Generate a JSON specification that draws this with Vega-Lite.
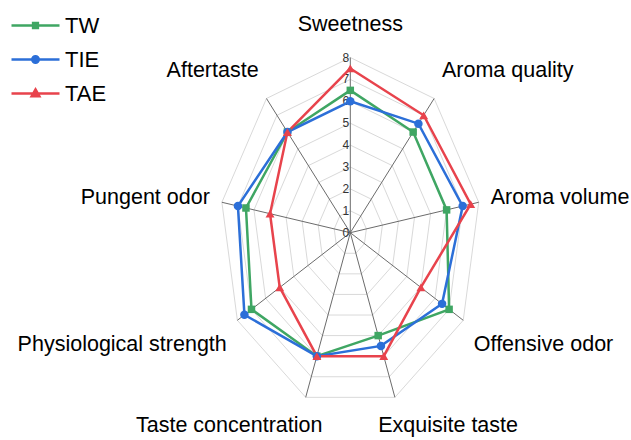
{
  "$schema": "https://vega.github.io/schema/vega-lite/v6.json",
  "width": 631,
  "height": 440,
  "autosize": {"type": "none"},
  "padding": 0,
  "background": "white",
  "config": {"view": {"stroke": null}, "font": "Liberation Sans, Arial, sans-serif"},
  "datasets": {
    "scores": [
      {"series": "TW", "k": 0, "attribute": "Sweetness", "value": 6.5},
      {"series": "TW", "k": 1, "attribute": "Aroma quality", "value": 6.0},
      {"series": "TW", "k": 2, "attribute": "Aroma volume", "value": 6.0},
      {"series": "TW", "k": 3, "attribute": "Offensive odor", "value": 7.0},
      {"series": "TW", "k": 4, "attribute": "Exquisite taste", "value": 5.0},
      {"series": "TW", "k": 5, "attribute": "Taste concentration", "value": 6.0},
      {"series": "TW", "k": 6, "attribute": "Physiological strength", "value": 7.0},
      {"series": "TW", "k": 7, "attribute": "Pungent odor", "value": 6.5},
      {"series": "TW", "k": 8, "attribute": "Aftertaste", "value": 6.0},
      {"series": "TIE", "k": 0, "attribute": "Sweetness", "value": 6.0},
      {"series": "TIE", "k": 1, "attribute": "Aroma quality", "value": 6.5},
      {"series": "TIE", "k": 2, "attribute": "Aroma volume", "value": 7.0},
      {"series": "TIE", "k": 3, "attribute": "Offensive odor", "value": 6.5},
      {"series": "TIE", "k": 4, "attribute": "Exquisite taste", "value": 5.5},
      {"series": "TIE", "k": 5, "attribute": "Taste concentration", "value": 6.0},
      {"series": "TIE", "k": 6, "attribute": "Physiological strength", "value": 7.5},
      {"series": "TIE", "k": 7, "attribute": "Pungent odor", "value": 7.0},
      {"series": "TIE", "k": 8, "attribute": "Aftertaste", "value": 6.0},
      {"series": "TAE", "k": 0, "attribute": "Sweetness", "value": 7.5},
      {"series": "TAE", "k": 1, "attribute": "Aroma quality", "value": 7.0},
      {"series": "TAE", "k": 2, "attribute": "Aroma volume", "value": 7.5},
      {"series": "TAE", "k": 3, "attribute": "Offensive odor", "value": 5.0},
      {"series": "TAE", "k": 4, "attribute": "Exquisite taste", "value": 6.0},
      {"series": "TAE", "k": 5, "attribute": "Taste concentration", "value": 6.0},
      {"series": "TAE", "k": 6, "attribute": "Physiological strength", "value": 5.0},
      {"series": "TAE", "k": 7, "attribute": "Pungent odor", "value": 5.0},
      {"series": "TAE", "k": 8, "attribute": "Aftertaste", "value": 6.0}
    ],
    "axes": [
      {"k": 0, "label": "Sweetness"},
      {"k": 1, "label": "Aroma quality"},
      {"k": 2, "label": "Aroma volume"},
      {"k": 3, "label": "Offensive odor"},
      {"k": 4, "label": "Exquisite taste"},
      {"k": 5, "label": "Taste concentration"},
      {"k": 6, "label": "Physiological strength"},
      {"k": 7, "label": "Pungent odor"},
      {"k": 8, "label": "Aftertaste"}
    ],
    "rings": [
      {"level": 1, "k": [0, 1, 2, 3, 4, 5, 6, 7, 8]},
      {"level": 2, "k": [0, 1, 2, 3, 4, 5, 6, 7, 8]},
      {"level": 3, "k": [0, 1, 2, 3, 4, 5, 6, 7, 8]},
      {"level": 4, "k": [0, 1, 2, 3, 4, 5, 6, 7, 8]},
      {"level": 5, "k": [0, 1, 2, 3, 4, 5, 6, 7, 8]},
      {"level": 6, "k": [0, 1, 2, 3, 4, 5, 6, 7, 8]},
      {"level": 7, "k": [0, 1, 2, 3, 4, 5, 6, 7, 8]},
      {"level": 8, "k": [0, 1, 2, 3, 4, 5, 6, 7, 8]}
    ],
    "ticks": [
      {"v": 0}, {"v": 1}, {"v": 2}, {"v": 3}, {"v": 4}, {"v": 5}, {"v": 6}, {"v": 7}, {"v": 8}
    ]
  },
  "layer": [
    {
      "data": {"name": "rings"},
      "transform": [
        {"flatten": ["k"]},
        {"calculate": "datum.level * sin(datum.k * 2 * PI / 9)", "as": "x"},
        {"calculate": "datum.level * cos(datum.k * 2 * PI / 9)", "as": "y"}
      ],
      "mark": {"type": "line", "interpolate": "linear-closed", "stroke": "#d9d9d9", "strokeWidth": 1},
      "encoding": {
        "x": {"field": "x", "type": "quantitative", "scale": {"domain": [-21.49, 17.22], "nice": false, "zero": false}, "axis": null},
        "y": {"field": "y", "type": "quantitative", "scale": {"domain": [-9.466, 10.626], "nice": false, "zero": false}, "axis": null},
        "detail": {"field": "level", "type": "nominal"},
        "order": {"field": "k", "type": "quantitative"}
      }
    },
    {
      "data": {"name": "axes"},
      "transform": [
        {"calculate": "8 * sin(datum.k * 2 * PI / 9)", "as": "ex"},
        {"calculate": "8 * cos(datum.k * 2 * PI / 9)", "as": "ey"},
        {"calculate": "0", "as": "origin"}
      ],
      "mark": {"type": "rule", "stroke": "#6b6b6b", "strokeWidth": 1},
      "encoding": {
        "x": {"field": "origin", "type": "quantitative"},
        "y": {"field": "origin", "type": "quantitative"},
        "x2": {"field": "ex"},
        "y2": {"field": "ey"}
      }
    },
    {
      "data": {"name": "ticks"},
      "transform": [{"calculate": "0", "as": "origin"}],
      "mark": {"type": "text", "align": "right", "baseline": "middle", "dx": -1, "fontSize": 12, "fill": "#333333"},
      "encoding": {
        "x": {"field": "origin", "type": "quantitative"},
        "y": {"field": "v", "type": "quantitative"},
        "text": {"field": "v", "type": "quantitative"}
      }
    },
    {
      "data": {"name": "scores"},
      "transform": [
        {"calculate": "datum.value * sin(datum.k * 2 * PI / 9)", "as": "x"},
        {"calculate": "datum.value * cos(datum.k * 2 * PI / 9)", "as": "y"}
      ],
      "mark": {"type": "line", "interpolate": "linear-closed", "strokeWidth": 2.5},
      "encoding": {
        "x": {"field": "x", "type": "quantitative"},
        "y": {"field": "y", "type": "quantitative"},
        "order": {"field": "k", "type": "quantitative"},
        "color": {
          "field": "series",
          "type": "nominal",
          "scale": {"domain": ["TW", "TIE", "TAE"], "range": ["#3fa663", "#2c6fd8", "#e8434c"]},
          "legend": {
            "title": null,
            "orient": "none",
            "legendX": 22,
            "legendY": 12,
            "padding": 0,
            "symbolSize": 576,
            "symbolStrokeWidth": 2.5,
            "labelFontSize": 22,
            "labelColor": "#000000",
            "labelOffset": 16,
            "rowPadding": 9,
            "encode": {
              "symbols": {
                "update": {
                  "shape": {"signal": "datum.value === 'TW' ? 'M-2,0H2M-0.2,-0.2H0.2V0.2H-0.2Z' : datum.value === 'TIE' ? 'M-2,0H2M-0.27,0A0.27,0.27 0 1,0 0.27,0A0.27,0.27 0 1,0 -0.27,0Z' : 'M-2,0H2M0,-0.34L0.32,0.22H-0.32Z'"},
                  "fill": {"signal": "scale('color', datum.value)"},
                  "stroke": {"signal": "scale('color', datum.value)"},
                  "strokeWidth": {"value": 2.5},
                  "opacity": {"value": 1}
                }
              }
            }
          }
        }
      }
    },
    {
      "data": {"name": "scores"},
      "transform": [
        {"filter": "datum.series === 'TW'"},
        {"calculate": "datum.value * sin(datum.k * 2 * PI / 9)", "as": "x"},
        {"calculate": "datum.value * cos(datum.k * 2 * PI / 9)", "as": "y"}
      ],
      "mark": {"type": "point", "filled": true, "opacity": 1, "size": 56, "shape": "square"},
      "encoding": {
        "x": {"field": "x", "type": "quantitative"},
        "y": {"field": "y", "type": "quantitative"},
        "color": {"field": "series", "type": "nominal", "legend": null}
      }
    },
    {
      "data": {"name": "scores"},
      "transform": [
        {"filter": "datum.series === 'TIE'"},
        {"calculate": "datum.value * sin(datum.k * 2 * PI / 9)", "as": "x"},
        {"calculate": "datum.value * cos(datum.k * 2 * PI / 9)", "as": "y"}
      ],
      "mark": {"type": "point", "filled": true, "opacity": 1, "size": 72, "shape": "circle"},
      "encoding": {
        "x": {"field": "x", "type": "quantitative"},
        "y": {"field": "y", "type": "quantitative"},
        "color": {"field": "series", "type": "nominal", "legend": null}
      }
    },
    {
      "data": {"name": "scores"},
      "transform": [
        {"filter": "datum.series === 'TAE'"},
        {"calculate": "datum.value * sin(datum.k * 2 * PI / 9)", "as": "x"},
        {"calculate": "datum.value * cos(datum.k * 2 * PI / 9)", "as": "y"}
      ],
      "mark": {"type": "point", "filled": true, "opacity": 1, "size": 80, "shape": "triangle-up"},
      "encoding": {
        "x": {"field": "x", "type": "quantitative"},
        "y": {"field": "y", "type": "quantitative"},
        "color": {"field": "series", "type": "nominal", "legend": null}
      }
    },
    {
      "data": {"name": "axes"},
      "transform": [
        {"calculate": "(datum.k == 4 || datum.k == 5 ? 5 : 8.75) * sin(datum.k * 2 * PI / 9)", "as": "lx"},
        {"calculate": "cos(datum.k * 2 * PI / 9)", "as": "c"},
        {"calculate": "8 * datum.c + (datum.c > 0 ? (datum.c > 0.9 ? 1.5 : 1.25) : (datum.c < -0.9 ? 1.3 : 1.4) * -1) * clamp((abs(datum.c) - 0.1) * 2, 0, 1)", "as": "ly"}
      ],
      "layer": [
        {
          "transform": [{"filter": "datum.k == 0"}],
          "mark": {"type": "text", "align": "center", "baseline": "middle", "fontSize": 21.5, "fill": "#000000"},
          "encoding": {"x": {"field": "lx", "type": "quantitative"}, "y": {"field": "ly", "type": "quantitative"}, "text": {"field": "label"}}
        },
        {
          "transform": [{"filter": "datum.k >= 1 && datum.k <= 4"}],
          "mark": {"type": "text", "align": "left", "baseline": "middle", "fontSize": 21.5, "fill": "#000000"},
          "encoding": {"x": {"field": "lx", "type": "quantitative"}, "y": {"field": "ly", "type": "quantitative"}, "text": {"field": "label"}}
        },
        {
          "transform": [{"filter": "datum.k >= 5"}],
          "mark": {"type": "text", "align": "right", "baseline": "middle", "fontSize": 21.5, "fill": "#000000"},
          "encoding": {"x": {"field": "lx", "type": "quantitative"}, "y": {"field": "ly", "type": "quantitative"}, "text": {"field": "label"}}
        }
      ]
    }
  ]
}
